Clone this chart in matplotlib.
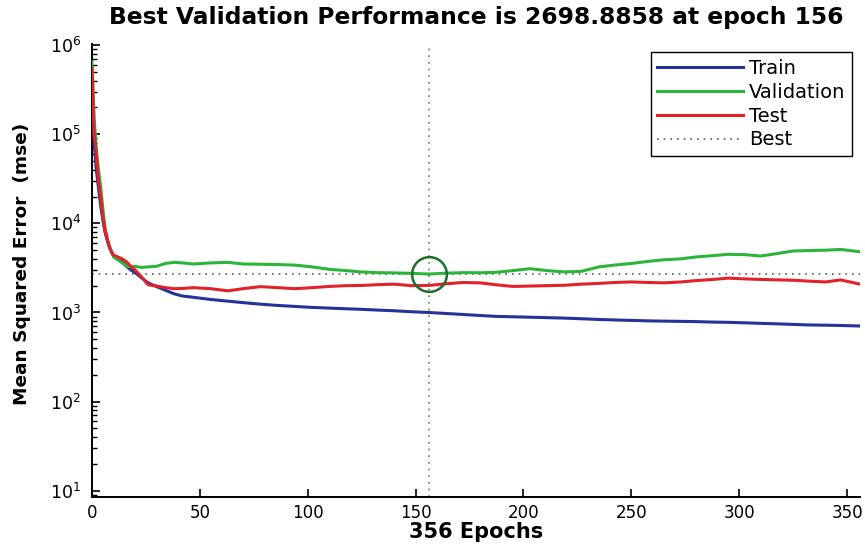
import matplotlib
matplotlib.use('Agg')
import matplotlib.pyplot as plt
from matplotlib import font_manager
from matplotlib.ticker import LogLocator, NullFormatter, FixedLocator
from matplotlib.lines import Line2D

# ---------------- data ----------------
epochs = [0, 1, 2, 3, 4, 5, 6, 7, 8, 9, 10,
          12, 14, 16, 18, 20,
          23, 26, 30, 34, 38, 42, 47,
          55, 63, 70, 78, 86, 94, 102, 110, 118, 125, 132, 140, 148, 156,
          164, 172, 180, 187, 195, 203, 211, 219, 227, 235, 242, 250, 258,
          265, 273, 280, 288, 295, 303, 310, 318, 325, 332, 340, 347, 356]

train = [3.0e5, 8.0e4, 4.0e4, 2.5e4, 1.6e4, 1.1e4, 8000, 6500, 5500, 4800, 4300,
         4000, 3700, 3300, 3000, 2800,
         2450, 2150, 1950, 1780, 1620, 1530, 1480,
         1400, 1340, 1290, 1240, 1200, 1170, 1140, 1120, 1100, 1085, 1065, 1045, 1020, 1000,
         975, 950, 925, 905, 895, 885, 875, 865, 850, 835, 825, 815, 805,
         800, 795, 790, 780, 775, 765, 755, 745, 735, 725, 720, 715, 705]

validation = [6.5e5, 1.5e5, 7.0e4, 4.0e4, 2.6e4, 1.5e4, 9000, 7000, 5500, 4800, 4200,
              3900, 3600, 3300, 3250, 3300,
              3200, 3250, 3300, 3550, 3650, 3600, 3500,
              3600, 3650, 3500, 3480, 3450, 3400, 3250, 3050, 2950, 2850, 2800, 2780, 2750, 2698.8858,
              2760, 2800, 2790, 2820, 2950, 3100, 2950, 2850, 2900, 3250, 3400, 3550, 3750,
              3900, 4000, 4200, 4350, 4500, 4450, 4300, 4600, 4900, 4950, 5000, 5100, 4800]

test = [5.5e5, 1.0e5, 6.0e4, 3.0e4, 2.0e4, 1.2e4, 8500, 6800, 5500, 4800, 4400,
        4200, 4000, 3700, 3300, 3000,
        2500, 2050, 1980, 1900, 1850, 1860, 1900,
        1850, 1750, 1850, 1950, 1900, 1850, 1900, 1960, 2000, 2010, 2050, 2080, 2000, 2010,
        2100, 2170, 2150, 2050, 1960, 1980, 2000, 2020, 2080, 2120, 2170, 2200, 2170,
        2150, 2200, 2280, 2350, 2430, 2380, 2350, 2320, 2300, 2250, 2200, 2320, 2080]

best_epoch = 156
best_perf = 2698.8858
n_epochs = 356
x_ticks = [0, 50, 100, 150, 200, 250, 300, 350]
legend_labels = ['Train', 'Validation', 'Test', 'Best']
title_text = 'Best Validation Performance is 2698.8858 at epoch 156'
xlabel_text = '356 Epochs'
ylabel_text = 'Mean Squared Error  (mse)'

# ---------------- style ----------------
c_train = '#25329a'
c_val = '#2db53a'
c_test = '#e2222a'
c_best_v = '#3f9a4a'
c_best_h = '#5a5a5a'
c_circle = '#1d6e2a'

plt.rcParams['font.family'] = ['DejaVu Sans']
plt.rcParams['mathtext.fontset'] = 'dejavusans'


def has_font(name):
    try:
        font_manager.findfont(font_manager.FontProperties(family=name),
                              fallback_to_default=False)
        return True
    except Exception:
        return False


W, H = 865, 548
fig = plt.figure(figsize=(W / 100, H / 100), dpi=100)
ax_l, ax_r, ax_t, ax_b = 92, 860, 44, 497
ax = fig.add_axes([ax_l / W, 1 - ax_b / H, (ax_r - ax_l) / W, (ax_b - ax_t) / H])

ax.plot(epochs, train, color=c_train, lw=2.2, label=legend_labels[0], zorder=3)
ax.plot(epochs, validation, color=c_val, lw=2.2, label=legend_labels[1], zorder=4)
ax.plot(epochs, test, color=c_test, lw=2.2, label=legend_labels[2], zorder=5)
ax.axvline(best_epoch, color=c_best_v, lw=1.2, ls=(0, (1, 3)), zorder=2)
ax.axhline(best_perf, color=c_best_h, lw=1.2, ls=(0, (1, 3)), zorder=2)
ax.plot([best_epoch], [best_perf], marker='o', ms=25, mfc='none', mec=c_circle,
        mew=1.8, zorder=6)

ax.set_yscale('log')
ax.set_xlim(0, n_epochs)
ax.set_ylim(8.5, 1.03e6)
ax.xaxis.set_major_locator(FixedLocator(x_ticks))
ax.yaxis.set_major_locator(LogLocator(base=10, numticks=10))
ax.yaxis.set_minor_locator(LogLocator(base=10, subs=range(2, 10), numticks=20))
ax.yaxis.set_minor_formatter(NullFormatter())

for s in ['top', 'right']:
    ax.spines[s].set_visible(False)
for s in ['left', 'bottom']:
    ax.spines[s].set_linewidth(1.4)
ax.tick_params(axis='both', which='major', direction='in', length=5.5, width=1.2,
               labelsize=12, pad=5)
ax.tick_params(axis='y', which='minor', direction='in', length=3.5, width=1.0)
ax.tick_params(axis='y', which='major', pad=8, labelsize=12.5)

ax.set_title(title_text, fontsize=16.8, fontweight='bold', pad=0,
             y=1 + (ax_t - 18) / (ax_b - ax_t), va='center')
ax.set_xlabel(xlabel_text, fontsize=15, fontweight='bold')
ax.xaxis.set_label_coords(0.5, (ax_b - 532) / (ax_b - ax_t))
ax.xaxis.label.set_va('center')

if has_font('Liberation Sans Narrow'):
    ax.set_ylabel(ylabel_text, fontsize=18.5, fontweight='bold',
                  family='Liberation Sans Narrow')
else:
    ax.set_ylabel(ylabel_text, fontsize=13.3, fontweight='bold')
ax.yaxis.set_label_coords((22 - ax_l) / (ax_r - ax_l), (ax_b - 264) / (ax_b - ax_t))
ax.yaxis.label.set_va('center')

handles = ax.get_lines()[:3] + [Line2D([], [], color=c_best_h, lw=1.2, ls=(0, (1, 3)))]
leg = ax.legend(handles, legend_labels, loc='upper right',
                bbox_to_anchor=(852 / W, 1 - 52 / H), bbox_transform=fig.transFigure,
                borderaxespad=0, fancybox=False, framealpha=1, edgecolor='black',
                fontsize=14, handlelength=4.4, handletextpad=0.3, labelspacing=0.25,
                borderpad=0.35)
leg.get_frame().set_linewidth(1.0)

fig.savefig('out.png', dpi=100)
